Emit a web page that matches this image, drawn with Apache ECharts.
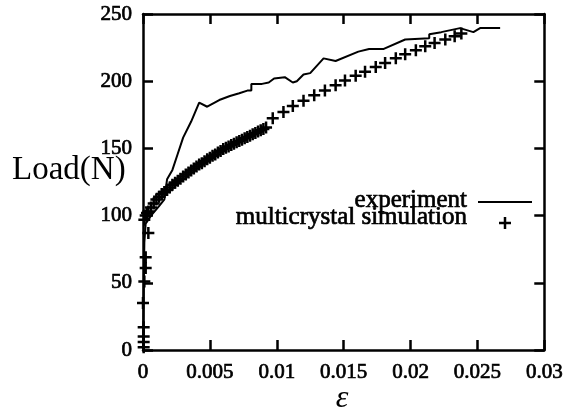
<!DOCTYPE html>
<html>
<head>
<meta charset="utf-8">
<script src="https://cdn.jsdelivr.net/npm/echarts@6/dist/echarts.min.js"></script>
<style>html,body{margin:0;padding:0;background:#fff;}#c{width:566px;height:412px;}</style>
</head>
<body>
<div id="c"></div>
<script>
// Experiment curve (strain, load N)
const expX = [0, 0.00005, 0.0001, 0.0002, 0.0006, 0.0012, 0.0016, 0.0017, 0.0018, 0.0022, 0.0026, 0.0030, 0.0036, 0.0042, 0.0048, 0.0057, 0.0065, 0.0072, 0.0078, 0.0081, 0.0081, 0.0089, 0.0094, 0.0098, 0.0106, 0.0112, 0.0115, 0.0120, 0.0125, 0.0135, 0.0144, 0.0161, 0.0169, 0.0180, 0.0196, 0.0214, 0.0214, 0.0223, 0.0237, 0.0242, 0.0247, 0.0252, 0.0267];
const expY = [0, 40, 80, 94, 100, 107, 112, 120, 127, 134, 146, 158, 170, 184, 181, 186, 189, 191, 193, 193, 198, 198, 199, 202, 203, 199, 200, 205, 206, 217, 215, 222, 224, 224, 231, 232, 235, 236.5, 239.5, 238, 236.5, 239.5, 239.5];

// Multicrystal simulation markers (strain, load N)
const simX = [0.00005, 0.00005, 0.00005, 0.00005, 0.0000, 0.0001, 0.0002, 0.0002, 0.0004, 0.0001, 0.0002, 0.0003,
  0.0004, 0.0006, 0.0008, 0.0010, 0.0012, 0.0014, 0.0016, 0.0018, 0.0020, 0.0022, 0.0024, 0.0026, 0.0028, 0.0030,
  0.0032, 0.0034, 0.0036, 0.0038, 0.0040, 0.0042, 0.0044, 0.0046, 0.0048, 0.0050, 0.0052, 0.0054, 0.0056, 0.0058,
  0.0060, 0.0062, 0.0064, 0.0066, 0.0068, 0.0070, 0.0072, 0.0074, 0.0076, 0.0078, 0.0080, 0.0082, 0.0084, 0.0086,
  0.0088, 0.0090, 0.0092,
  0.0097, 0.0105, 0.0112, 0.0120, 0.0128, 0.0136, 0.0144, 0.0151, 0.0159, 0.0166, 0.0174, 0.0181, 0.0189, 0.0196,
  0.0204, 0.0211, 0.0218, 0.0226, 0.0233, 0.0238];
const simY = [2, 6, 10, 17, 35, 51, 61, 69, 87, 97, 100, 102,
  103, 106, 109, 112, 114, 116, 117.5, 119, 121, 123, 124.5, 126, 127.5, 129,
  130.5, 132, 133.5, 135, 136.5, 138, 139, 140.5, 142, 143, 144.5, 145.5, 147, 148,
  149.5, 150.5, 151.5, 152.5, 153.5, 154.5, 155.5, 156.5, 157.5, 158.5, 159.5, 160.5, 161.5, 162.5,
  163.5, 164.5, 165.5,
  172.5, 177, 181.5, 185.5, 189.5, 193, 197, 200.5, 204, 207, 210.5, 213.5, 217, 220,
  223, 226, 228.5, 231, 233.5, 235.5];

const xTicks = [0, 0.005, 0.01, 0.015, 0.02, 0.025, 0.03];
const yTicks = [0, 50, 100, 150, 200, 250];
const legendNames = ['experiment', 'multicrystal simulation'];

const PLUS = 'path://M4.75,0H7.25V4.75H12V7.25H7.25V12H4.75V7.25H0V4.75H4.75Z';
const FONT = 'Liberation Serif';

const chart = echarts.init(document.getElementById('c'));
const axisCommon = {
  axisLine: {show: true, onZero: false, lineStyle: {color: '#000', width: 2.5}},
  axisTick: {show: true, inside: true, length: 10, lineStyle: {color: '#000', width: 2.5}},
  splitLine: {show: false}
};
const xBase = {type: 'value', min: 0, max: 0.03, interval: 0.005};
const yBase = {type: 'value', min: 0, max: 250, interval: 50};

chart.setOption({
  animation: false,
  backgroundColor: '#fff',
  grid: {left: 143, right: 20, top: 14, bottom: 62, containLabel: false},
  xAxis: [
    Object.assign({}, xBase, axisCommon, {
      position: 'bottom',
      axisLabel: {color: '#000', fontFamily: FONT, fontSize: 21, margin: 12, textBorderColor: '#000', textBorderWidth: 0.7,
        formatter: v => { const i = xTicks.findIndex(t => Math.abs(t - v) < 1e-9); return i >= 0 ? String(xTicks[i]) : ''; }}
    }),
    Object.assign({}, xBase, axisCommon, {position: 'top', axisLabel: {show: false}})
  ],
  yAxis: [
    Object.assign({}, yBase, axisCommon, {
      position: 'left',
      axisLabel: {color: '#000', fontFamily: FONT, fontSize: 21, margin: 11, textBorderColor: '#000', textBorderWidth: 0.7,
        formatter: v => { const i = yTicks.indexOf(v); return i >= 0 ? String(yTicks[i]) : ''; }}
    }),
    Object.assign({}, yBase, axisCommon, {position: 'right', axisLabel: {show: false}})
  ],
  series: [
    {
      name: legendNames[0], type: 'line', xAxisIndex: 0, yAxisIndex: 0,
      data: expX.map((x, i) => [x, expY[i]]),
      showSymbol: false, symbol: 'none',
      lineStyle: {color: '#000', width: 2}, z: 3
    },
    {
      name: legendNames[1], type: 'scatter', xAxisIndex: 0, yAxisIndex: 0,
      data: simX.map((x, i) => [x, simY[i]]),
      symbol: PLUS, symbolSize: 12,
      itemStyle: {color: '#000', opacity: 1}, z: 4
    }
  ],
  graphic: [
    {type: 'text', x: 12, y: 170, style: {text: 'Load(N)', fontFamily: FONT, fontSize: 33, fill: '#000', align: 'left', verticalAlign: 'middle'}},
    {type: 'text', x: 342, y: 399, style: {text: 'ε', fontFamily: FONT, fontStyle: 'italic', fontSize: 32, fill: '#000', align: 'center', verticalAlign: 'middle'}},
    {type: 'text', x: 467, y: 200, style: {text: legendNames[0], fontFamily: FONT, fontSize: 25, fill: '#000', stroke: '#000', lineWidth: 0.7, align: 'right', verticalAlign: 'middle'}},
    {type: 'text', x: 467, y: 217, style: {text: legendNames[1], fontFamily: FONT, fontSize: 25, fill: '#000', stroke: '#000', lineWidth: 0.7, align: 'right', verticalAlign: 'middle'}},
    {type: 'line', shape: {x1: 478, y1: 202, x2: 532, y2: 202}, style: {stroke: '#000', lineWidth: 2}},
    {type: 'rect', shape: {x: 499, y: 221.75, width: 12, height: 2.5}, style: {fill: '#000'}},
    {type: 'rect', shape: {x: 503.75, y: 217, width: 2.5, height: 12}, style: {fill: '#000'}}
  ]
});
</script>
</body>
</html>
